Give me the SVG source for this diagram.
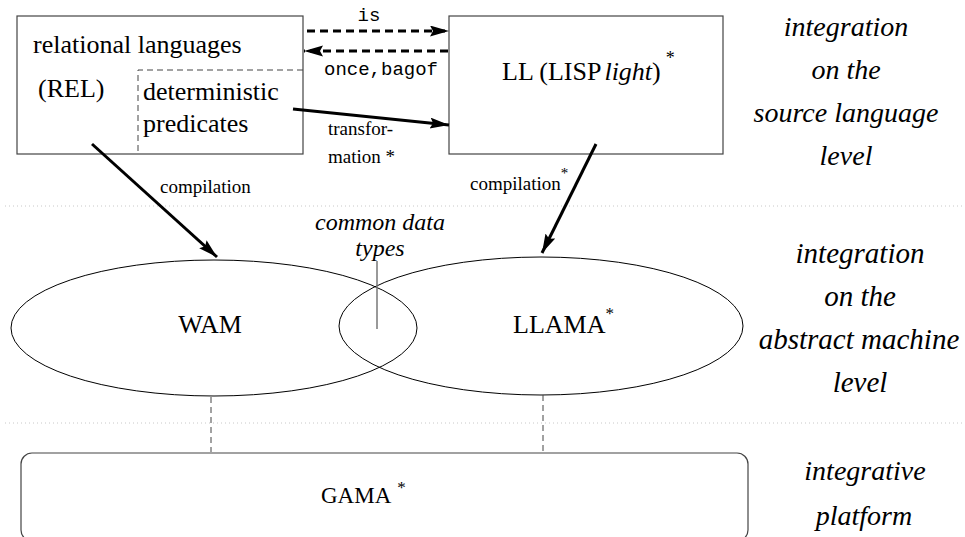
<svg xmlns="http://www.w3.org/2000/svg" width="965" height="537" viewBox="0 0 965 537">
<style>
.serif{font-family:"Liberation Serif","Times New Roman",serif;fill:#000}
.mono{font-family:"Liberation Mono","Courier New",monospace;fill:#000}
.it{font-style:italic}
.box{fill:none;stroke:#444;stroke-width:1.2}
.ell{fill:none;stroke:#000;stroke-width:1}
.sep{stroke:#c8c8c8;stroke-width:1;stroke-dasharray:1 3}
.thick{stroke:#000;stroke-width:3;fill:none}
.thickdash{stroke:#000;stroke-width:3;fill:none;stroke-dasharray:8 5}
.thin{stroke:#444;stroke-width:1;fill:none;stroke-dasharray:6 4}
</style>
<defs>
<marker id="ah" markerUnits="userSpaceOnUse" markerWidth="22" markerHeight="12" refX="19" refY="5.5" orient="auto">
<path d="M0,0 L19,5.5 L0,11 L3,5.5 z" fill="#000"/>
</marker>
</defs>
<rect width="965" height="537" fill="#fff"/>
<g id="separators">
<line class="sep" x1="5" y1="206" x2="965" y2="206"/>
<line class="sep" x1="5" y1="423" x2="965" y2="423"/>
</g>
<g id="rel">
<rect class="box" x="17" y="16" width="286" height="138"/>
<text class="serif" x="33" y="53" font-size="26">relational languages</text>
<text class="serif" x="38" y="97" font-size="26">(REL)</text>
</g>
<g id="det">
<path class="thin" d="M303,70 H138 V154"/>
<text class="serif" x="143" y="100" font-size="26">deterministic</text>
<text class="serif" x="143" y="132" font-size="26">predicates</text>
</g>
<g id="ll">
<rect class="box" x="449" y="16" width="274" height="138"/>
<text class="serif" x="502" y="80" font-size="26">LL (LISP<tspan class="it" dx="3">light</tspan>)<tspan font-size="18" dx="5" dy="-16">*</tspan></text>
</g>
<g id="wam">
<ellipse class="ell" cx="214" cy="328" rx="203" ry="68"/>
<text class="serif" x="210" y="333" font-size="26" text-anchor="middle">WAM</text>
</g>
<g id="llama">
<ellipse class="ell" cx="541" cy="326" rx="202" ry="69"/>
<text class="serif" x="513" y="333" font-size="26">LLAMA<tspan font-size="17" dy="-14">*</tspan></text>
</g>
<g id="common">
<line x1="377" y1="261" x2="377" y2="329" stroke="#777" stroke-width="1.5"/>
<text class="serif it" x="380" y="230" font-size="24" text-anchor="middle">common data</text>
<text class="serif it" x="380" y="256" font-size="24" text-anchor="middle">types</text>
</g>
<g id="gama">
<rect class="box" x="21" y="453" width="727" height="88" rx="11"/>
<text class="serif" x="321" y="503" font-size="23">GAMA<tspan font-size="17" dx="6" dy="-10">*</tspan></text>
</g>
<g id="connectors">
<line class="thickdash" x1="307" y1="31" x2="449" y2="31" marker-end="url(#ah)"/>
<line class="thickdash" x1="448" y1="51" x2="304" y2="51" marker-end="url(#ah)"/>
<line class="thick" x1="293" y1="109" x2="449" y2="125" marker-end="url(#ah)"/>
<line class="thick" x1="92" y1="144" x2="217" y2="257" marker-end="url(#ah)"/>
<line class="thick" x1="596" y1="144" x2="542" y2="253" marker-end="url(#ah)"/>
<line class="thin" x1="211" y1="397" x2="211" y2="452"/>
<line class="thin" x1="543" y1="395" x2="543" y2="452"/>
<text class="mono" x="369" y="21" font-size="19" text-anchor="middle">is</text>
<text class="mono" x="381" y="75" font-size="19" text-anchor="middle">once,bagof</text>
<text class="serif" x="328" y="135" font-size="19">transfor-</text>
<text class="serif" x="328" y="163" font-size="19">mation *</text>
<text class="serif" x="160" y="193" font-size="19">compilation</text>
<text class="serif" x="470" y="190" font-size="19">compilation<tspan font-size="15" dy="-12">*</tspan></text>
</g>
<g id="levels" class="serif it" font-size="28" text-anchor="middle">
<text x="846" y="36">integration</text>
<text x="846" y="79">on the</text>
<text x="846" y="122">source language</text>
<text x="846" y="165">level</text>
<text x="860" y="263" font-size="29">integration</text>
<text x="860" y="306" font-size="29">on the</text>
<text x="859" y="349" font-size="29">abstract machine</text>
<text x="860" y="392" font-size="29">level</text>
<text x="865" y="480">integrative</text>
<text x="864" y="525">platform</text>
</g>
</svg>
